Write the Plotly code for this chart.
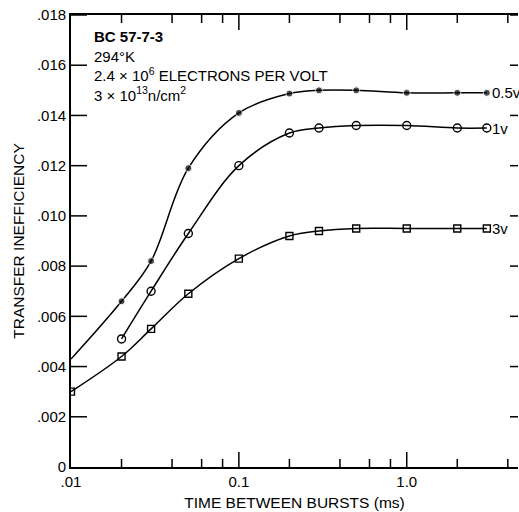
import math
import plotly.graph_objects as go

# Data
x_05 = [0.01, 0.02, 0.03, 0.05, 0.1, 0.2, 0.3, 0.5, 1.0, 2.0, 3.0]
y_05 = [0.0043, 0.0066, 0.0082, 0.0119, 0.0141, 0.01487, 0.0150, 0.0150, 0.0149, 0.0149, 0.0149]
x_1 = [0.02, 0.03, 0.05, 0.1, 0.2, 0.3, 0.5, 1.0, 2.0, 3.0]
y_1 = [0.0051, 0.0070, 0.0093, 0.0120, 0.0133, 0.0135, 0.0136, 0.0136, 0.0135, 0.0135]
x_3 = [0.01, 0.02, 0.03, 0.05, 0.1, 0.2, 0.3, 0.5, 1.0, 2.0, 3.0]
y_3 = [0.0030, 0.0044, 0.0055, 0.0069, 0.0083, 0.0092, 0.0094, 0.0095, 0.0095, 0.0095, 0.0095]
series_labels = ["0.5v", "1v", "3v"]

x_major = [0.01, 0.1, 1.0]
x_major_text = [".01", "0.1", "1.0"]
x_minor = [0.02, 0.04, 0.06, 0.08, 0.2, 0.4, 0.6, 0.8, 2, 4]
y_ticks = [0, 0.002, 0.004, 0.006, 0.008, 0.010, 0.012, 0.014, 0.016, 0.018]
y_tick_text = ["0", ".002", ".004", ".006", ".008", ".010", ".012", ".014", ".016", ".018"]

FONT = "Liberation Sans, Arial, Helvetica, sans-serif"
W, H = 519, 512
ML, MR, MT, MB = 71, 1, 15, 45
X_MIN, X_MAX = 0.01, 4.6
Y_MIN, Y_MAX = 0.0, 0.018
xr = [math.log10(X_MIN), math.log10(X_MAX)]

fig = go.Figure()
line = dict(color="black", width=1.5, shape="spline", smoothing=1.0)

fig.add_trace(go.Scatter(
    x=x_05, y=y_05, mode="lines+markers", line=line,
    marker=dict(symbol="circle", size=[0] + [7] * (len(x_05) - 1), color="black"),
    showlegend=False))
fig.add_trace(go.Scatter(
    x=x_1, y=y_1, mode="lines+markers", line=line,
    marker=dict(symbol="circle-open", size=8, color="black", line=dict(width=1.4)),
    showlegend=False))
fig.add_trace(go.Scatter(
    x=x_3, y=y_3, mode="lines+markers", line=line,
    marker=dict(symbol="square-open", size=7, color="black", line=dict(width=1.4)),
    showlegend=False))

# ---- inside tick marks, built from the tick lists (lengths given in pixels) ----
plot_w = W - ML - MR
plot_h = H - MT - MB
y_per_px = (Y_MAX - Y_MIN) / plot_h
dec_per_px = (xr[1] - xr[0]) / plot_w

tx, ty = [], []
for v in x_major[1:] + x_minor:
    ln = (15 if v in x_major else 8) * y_per_px
    tx += [v, v, None, v, v, None]
    ty += [Y_MIN, Y_MIN + ln, None, Y_MAX, Y_MAX - ln, None]
for v in y_ticks[1:]:
    left_end = X_MIN * 10 ** (16 * dec_per_px)
    right_start = X_MAX / 10 ** (8 * dec_per_px)
    tx += [X_MIN, left_end, None, right_start, X_MAX, None]
    ty += [v, v, None, v, v, None]
fig.add_trace(go.Scatter(x=tx, y=ty, mode="lines", line=dict(color="black", width=1.5),
                         showlegend=False, hoverinfo="skip", cliponaxis=False))

# end labels
for xs, ys, lab in [(x_05, y_05, series_labels[0]), (x_1, y_1, series_labels[1]), (x_3, y_3, series_labels[2])]:
    fig.add_annotation(x=math.log10(xs[-1]), y=ys[-1], text=lab, showarrow=False, xanchor="left",
                       xshift=3, yanchor="middle", font=dict(family=FONT, size=15, color="black"))

fig.add_annotation(
    xref="paper", yref="paper", x=0.048, y=0.975, xanchor="left", yanchor="top", align="left",
    showarrow=False,
    text=("<b>BC 57-7-3</b><br>294°K<br>2.4 × 10<sup>6</sup> ELECTRONS PER VOLT<br>"
          "3 × 10<sup>13</sup>n/cm<sup>2</sup>"),
    font=dict(family=FONT, size=15, color="black"))

fig.update_layout(
    template="none",
    width=W, height=H,
    margin=dict(l=ML, r=MR, t=MT, b=MB),
    paper_bgcolor="white", plot_bgcolor="white",
    showlegend=False,
    font=dict(family=FONT, size=15, color="black"),
    xaxis=dict(
        type="log", range=xr, showgrid=False, zeroline=False,
        showline=True, linecolor="black", linewidth=1.8, mirror=True,
        tickvals=x_major, ticktext=x_major_text, ticks="inside", ticklen=15,
        tickcolor="rgba(0,0,0,0)",
        title=dict(text="TIME BETWEEN BURSTS (ms)", standoff=8, font=dict(size=15.5)),
        tickfont=dict(size=15),
    ),
    yaxis=dict(
        range=[Y_MIN, Y_MAX], showgrid=False, zeroline=False,
        showline=True, linecolor="black", linewidth=1.8,
        tickvals=y_ticks, ticktext=y_tick_text, ticks="inside", ticklen=16,
        tickcolor="rgba(0,0,0,0)",
        title=dict(text="TRANSFER INEFFICIENCY", standoff=8, font=dict(size=15.5)),
        tickfont=dict(size=15),
    ),
)

fig.write_html("out.html")
